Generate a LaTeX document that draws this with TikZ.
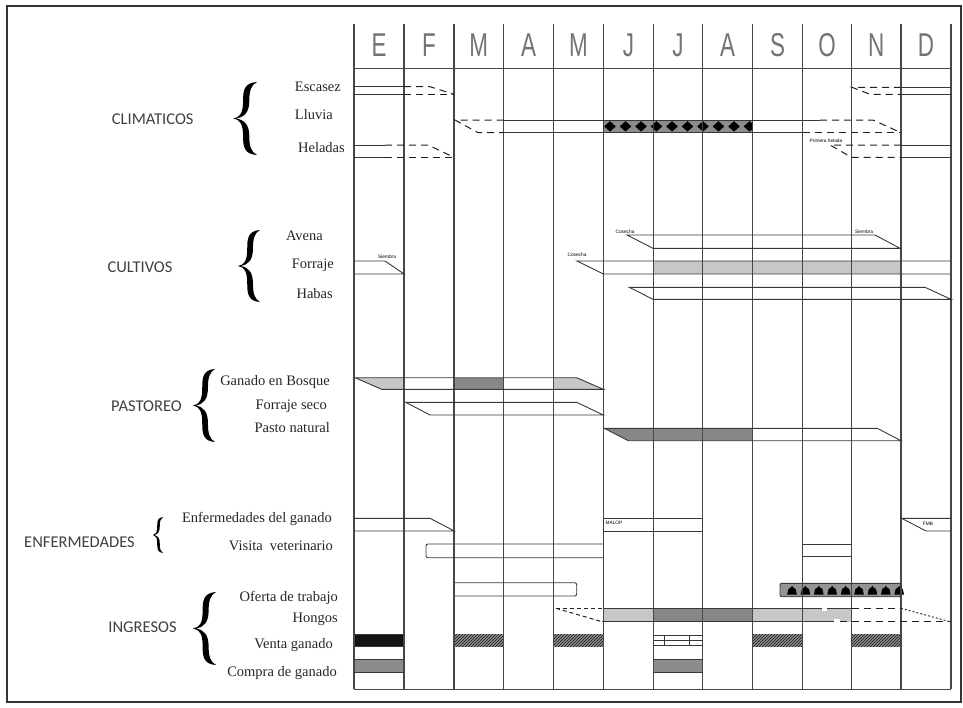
\documentclass[tikz,border=0pt]{standalone}
\usepackage{fontspec}
\setmainfont{Liberation Serif}
\newfontfamily\catfont{Carlito}
\newfontfamily\cadfont{Liberation Sans}
\usetikzlibrary{patterns}

\tikzset{
  curlybrace/.pic={
    \fill (1,1) .. controls (0.45,0.98) and (0.42,0.75) .. (0.42,0.5)
      .. controls (0.42,0.15) and (0.3,0.03) .. (0,0)
      .. controls (0.3,-0.03) and (0.42,-0.15) .. (0.42,-0.5)
      .. controls (0.42,-0.75) and (0.45,-0.98) .. (1,-1)
      .. controls (0.75,-0.92) and (0.68,-0.75) .. (0.68,-0.5)
      .. controls (0.68,-0.18) and (0.5,-0.04) .. (0.12,0)
      .. controls (0.5,0.04) and (0.68,0.18) .. (0.68,0.5)
      .. controls (0.68,0.75) and (0.75,0.92) .. (1,1) -- cycle;
  }
}

\begin{document}
\begin{tikzpicture}[x=1pt,y=-1pt,
  gridline/.style={draw=black!72, line width=1.1pt},
  bar/.style={draw=black!78, line width=0.9pt},
  dsh/.style={bar, draw=black!88, line width=1pt, dash pattern=on 7pt off 5pt},
  dotdsh/.style={bar, draw=black!88, line width=1pt, dash pattern=on 4pt off 3pt},
  lightfill/.style={fill=black!22},
  darkfill/.style={fill=black!47},
  hatchfill/.style={fill=black!45, postaction={pattern=north east lines, pattern color=black!90}},
  rowlabel/.style={font=\fontsize{14.5}{16}\selectfont, text=black!85, inner sep=0pt, anchor=base east},
  catlabel/.style={font=\catfont\fontsize{16.5}{18}\selectfont, text=black!75, inner sep=0pt},
  month/.style={font=\cadfont\fontsize{33}{33}\selectfont, text=black!55, xscale=0.68, inner sep=0pt},
  tinylabel/.style={font=\cadfont\fontsize{4.8}{5}\selectfont, inner sep=0pt},
]
\useasboundingbox (0,0) rectangle (963,707);

% outer frame
\draw[draw=black!80, line width=1.5pt] (7,6) rectangle (961,702);

% ---------- category labels and braces ----------
\node[catlabel] (climaticos) at (152.7,119) {CLIMATICOS};
\node[catlabel] (cultivos) at (140,267.7) {CULTIVOS};
\node[catlabel] (pastoreo) at (146.5,405.7) {PASTOREO};
\node[catlabel] (enfermedades) at (79.5,541.7) {ENFERMEDADES};
\node[catlabel] (ingresos) at (142.5,627.3) {INGRESOS};

\pic[xscale=24, yscale=36.5] at (233,118.5) {curlybrace};
\pic[xscale=22, yscale=36] at (238,266) {curlybrace};
\pic[xscale=22, yscale=36.5] at (193,405.5) {curlybrace};
\pic[xscale=10, yscale=18] at (153,535) {curlybrace};
\pic[xscale=23, yscale=36.5] at (193,628.5) {curlybrace};

% ---------- row labels ----------
\node[rowlabel] (escasez) at (341,91.5) {Escasez};
\node[rowlabel] (lluvia) at (333,119.5) {Lluvia};
\node[rowlabel] (heladas) at (345,152.5) {Heladas};
\node[rowlabel] (avena) at (323,240.5) {Avena};
\node[rowlabel] (forraje) at (334,268.5) {Forraje};
\node[rowlabel] (habas) at (333,298.5) {Habas};
\node[rowlabel] (bosque) at (330,385.5) {Ganado en Bosque};
\node[rowlabel] (seco) at (327,409.5) {Forraje seco};
\node[rowlabel] (pasto) at (330,432.5) {Pasto natural};
\node[rowlabel] (enfgan) at (332,522.5) {Enfermedades del ganado};
\node[rowlabel] (visita) at (333,550.5) {Visita\ \ veterinario};
\node[rowlabel] (oferta) at (338,601.5) {Oferta de trabajo};
\node[rowlabel] (hongos) at (338,622.5) {Hongos};
\node[rowlabel] (venta) at (333,648.5) {Venta ganado};
\node[rowlabel] (compra) at (337,676.5) {Compra de ganado};

% ---------- fills (below the grid) ----------
% Lluvia: rainy season band
\fill[black!45] (603.5,120) rectangle (752.5,132.7);
\begin{scope}
  \clip (603.5,120) rectangle (752.5,132.7);
  \foreach \k in {0,...,9}
    \fill[black] ({610+15.5*\k},121.2) -- ({615.8+15.5*\k},126.4) -- ({610+15.5*\k},131.6) -- ({604.2+15.5*\k},126.4) -- cycle;
\end{scope}
% Forraje
\fill[lightfill] (653.5,261) rectangle (901,274);
% Ganado en Bosque
\fill[lightfill] (355,377.7) -- (404,377.7) -- (404,389.3) -- (381.7,389.3) -- cycle;
\fill[darkfill] (454,377.7) rectangle (503.5,389.3);
\fill[lightfill] (553.5,377.7) -- (576.7,377.7) -- (603.3,389.3) -- (553.5,389.3) -- cycle;
% Pasto natural
\fill[darkfill] (604.3,428.3) -- (752.5,428.3) -- (752.5,440.7) -- (628.3,440.7) -- cycle;
% Oferta de trabajo band
\fill[black!42] (780,583.3) rectangle (901,596.7);
\foreach \k in {0,...,8}
  \fill[black] ({792+13.4*\k-4.8},594.5) -- ({792+13.4*\k-3.6},589) -- ({792+13.4*\k-1.3},587.6) -- ({792+13.4*\k},585.8) -- ({792+13.4*\k+1.3},587.6) -- ({792+13.4*\k+3.6},589) -- ({792+13.4*\k+4.8},594.5) -- cycle;
% Hongos
\fill[lightfill] (603.5,608.3) rectangle (653.5,621.7);
\fill[darkfill] (653.5,608.3) rectangle (752.5,621.7);
\fill[lightfill] (752.5,608.3) rectangle (851.5,621.7);
% Venta ganado
\fill[black!92] (354,634.3) rectangle (404,646.7);
\fill[hatchfill] (454,634.3) rectangle (503.5,646.7);
\fill[hatchfill] (553.5,634.3) rectangle (603.5,646.7);
\fill[hatchfill] (752.5,634.3) rectangle (802.5,646.7);
\fill[hatchfill] (851.5,634.3) rectangle (901,646.7);
% Compra de ganado
\fill[black!45] (354,659.3) rectangle (404,672.7);
\fill[black!45] (653.5,659.3) rectangle (702.5,672.7);

% ---------- month grid ----------
\foreach \xx in {354,404,454,503.5,553.5,603.5,653.5,702.5,752.5,802.5,851.5,901,951}
  \draw[gridline] (\xx,24) -- (\xx,689.3);
\draw[gridline] (354,68.3) -- (951,68.3);
\draw[gridline] (354,689.3) -- (951,689.3);

\foreach \m/\xx [count=\i] in {E/379,F/429,M/478.75,A/528.5,M/578.5,J/628.5,J/678,A/727.5,S/777.5,O/827,N/876.25,D/926}
  \node[month] (month\i) at (\xx,45) {\m};

% ---------- CLIMATICOS ----------
% Escasez
\draw[bar] (354,86.7) -- (404,86.7);
\draw[dsh] (404,86.7) -- (430,86.7) -- (454,94.3);
\draw[bar] (354,94.3) -- (404,94.3);
\draw[dsh] (404,94.3) -- (454,94.3);
\draw[dsh] (901,87.3) -- (852,87.3) -- (870,94.3) -- (901,94.3);
\draw[bar] (901,87.3) -- (951,87.3);
\draw[bar] (901,94.3) -- (951,94.3);
% Lluvia
\draw[dsh] (503.5,120) -- (455,120) -- (478,132.7) -- (503.5,132.7);
\draw[bar] (503.5,120) -- (820,120);
\draw[dsh] (820,120) -- (873,120) -- (901,132.7);
\draw[bar] (503.5,132.7) -- (803,132.7);
\draw[dsh] (803,132.7) -- (901,132.7);
\draw[bar] (603.5,120) rectangle (752.5,132.7);
% Heladas
\draw[bar] (354,145) -- (385,145);
\draw[dsh] (385,145) -- (428,145) -- (454,157.3);
\draw[bar] (354,157.3) -- (385,157.3);
\draw[dsh] (385,157.3) -- (454,157.3);
\draw[dsh] (901,145) -- (830,145) -- (851.5,157.3) -- (901,157.3);
\draw[bar] (901,145) -- (951,145);
\draw[bar] (901,157.3) -- (951,157.3);
\node[tinylabel] (helada) at (826,141) {Primera helada};

% ---------- CULTIVOS ----------
% Avena
\draw[bar] (627,235) -- (875,235) -- (900,248.3) -- (653,248.3) -- cycle;
\node[tinylabel] (avcos) at (625,231.3) {Cosecha};
\node[tinylabel] (avsie) at (864,231.3) {Siembra};
% Forraje
\draw[bar] (354,261) -- (385,261) -- (404,274) -- (354,274);
\node[tinylabel] (fosie) at (387,256.5) {Siembra};
\draw[bar] (951,261) -- (577,261) -- (603.5,274) -- (951,274);
\node[tinylabel] (focos) at (577,255) {Cosecha};
% Habas
\draw[bar] (629.3,287.3) -- (925,287.3) -- (951,299.3) -- (653,299.3) -- cycle;

% ---------- PASTOREO ----------
\draw[bar] (355,377.7) -- (576.7,377.7) -- (603.3,389.3) -- (381.7,389.3) -- cycle;
\draw[bar] (405.7,402.3) -- (576.7,402.3) -- (603.3,415) -- (430,415) -- cycle;
\draw[bar] (604.3,428.3) -- (877.3,428.3) -- (901,440.7) -- (628.3,440.7) -- cycle;

% ---------- ENFERMEDADES ----------
\draw[bar] (354,518.3) -- (430,518.3) -- (454.3,531) -- (354,531);
\draw[bar] (603.5,518.3) rectangle (702.5,531);
\node[tinylabel] (malop) at (614,523) {MALOP};
\draw[bar] (951,518.3) -- (901.7,518.3) -- (926,531) -- (951,531);
\node[tinylabel] (fmb) at (928,523.5) {FMB};
\draw[bar, rounded corners=2pt] (603.5,544) -- (426,544) -- (426,557.7) -- (603.5,557.7);
\draw[bar] (802.5,544) -- (851.5,544);
\draw[bar] (802.5,556.7) -- (851.5,556.7);

% ---------- INGRESOS ----------
% Oferta de trabajo
\draw[bar, rounded corners=2pt] (455,582.7) -- (576.7,582.7) -- (576.7,596) -- (455,596);
\draw[bar, rounded corners=1.5pt] (780,583.3) rectangle (901,596.7);
% Hongos
\draw[dotdsh] (556,608.3) -- (603.5,608.3);
\draw[dotdsh] (556,608.3) -- (602,621.7);
\draw[bar] (603.5,608.3) -- (851.5,608.3);
\draw[dsh] (851.5,608.3) -- (901,608.3);
\draw[bar, draw=black!88, dash pattern=on 2pt off 2pt] (901,608.3) -- (950,621.7);
\draw[bar] (602,621.7) -- (834,621.7);
\draw[dsh] (840,621.7) -- (950,621.7);
\fill[white] (822,606.5) rectangle (827,611);
\fill[white] (834,619) rectangle (840,624);
% Venta ganado: striped box in July
\draw[bar, line width=0.6pt] (653.5,635.7) -- (702.5,635.7);
\draw[bar, line width=0.6pt] (653.5,640.7) -- (702.5,640.7);
\draw[bar, line width=0.6pt] (653.5,645.7) -- (702.5,645.7);
\draw[bar, line width=0.6pt] (664,635.7) -- (664,645.7);
\draw[bar, line width=0.6pt] (689.3,635.7) -- (689.3,645.7);
\fill[white] (693,641.5) rectangle (701,645);
% edges of filled cells
\draw[bar, line width=0.6pt] (354,634.3) -- (404,634.3) (354,646.7) -- (404,646.7);
\draw[bar, line width=0.6pt] (354,659.3) -- (404,659.3) (354,672.7) -- (404,672.7);
\draw[bar, line width=0.6pt] (653.5,659.3) -- (702.5,659.3) (653.5,672.7) -- (702.5,672.7);
\end{tikzpicture}
\end{document}
